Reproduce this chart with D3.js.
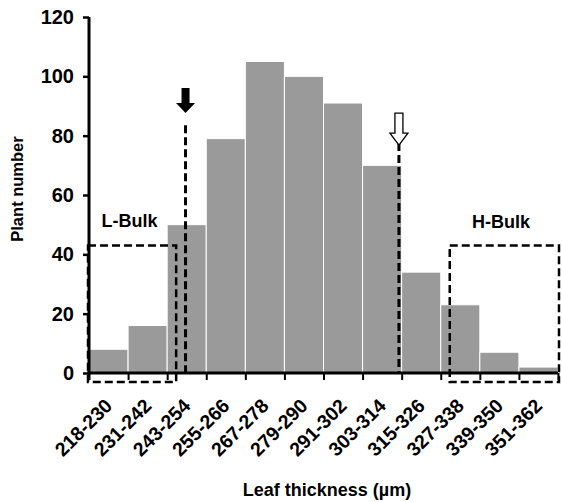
<!DOCTYPE html>
<html>
<head>
<meta charset="utf-8">
<script src="https://cdn.jsdelivr.net/npm/d3@7"></script>
<style>
  body { margin: 0; background: #fff; }
  svg { display: block; }
  text { font-family: "Liberation Sans", Arial, sans-serif; font-weight: bold; fill: #000; }
</style>
</head>
<body>
<svg id="chart" width="562" height="502"></svg>
<script>
// ---- data ----
const categories = ["218-230","231-242","243-254","255-266","267-278","279-290",
                    "291-302","303-314","315-326","327-338","339-350","351-362"];
const plantCounts = [8, 16, 50, 79, 105, 100, 91, 70, 34, 23, 7, 2];
const yTickValues = [0, 20, 40, 60, 80, 100, 120];
const bulkLabels = ["L-Bulk", "H-Bulk"];

// ---- layout ----
const plotL = 89, plotR = 558, plotT = 17, plotB = 373;
const svg = d3.select("#chart");

const x = d3.scaleBand().domain(categories).range([plotL, plotR]).padding(0);
const xEdge = d3.scaleLinear().domain([0, categories.length]).range([plotL, plotR]);
const y = d3.scaleLinear().domain([0, 120]).range([plotB, plotT]);
const bw = x.bandwidth();

// bars
svg.append("g").selectAll("rect").data(plantCounts).join("rect")
  .attr("x", (d, i) => x(categories[i]))
  .attr("y", d => y(d))
  .attr("width", bw)
  .attr("height", d => y(0) - y(d))
  .attr("fill", "#9a9a9a")
  .attr("stroke", "#fff")
  .attr("stroke-width", 1);

// dashed bulk boxes
const dash = "8,4";
const boxes = [
  {x0: xEdge(0) - 1, x1: xEdge(2.23), y0: y(43), y1: y(-3)},
  {x0: xEdge(9.23), x1: xEdge(12) + 1, y0: y(43), y1: y(-3)}
];
svg.append("g").selectAll("rect").data(boxes).join("rect")
  .attr("x", d => d.x0).attr("y", d => d.y0)
  .attr("width", d => d.x1 - d.x0).attr("height", d => d.y1 - d.y0)
  .attr("fill", "none").attr("stroke", "#000")
  .attr("stroke-width", 2.5).attr("stroke-dasharray", dash);

// bulk labels
svg.append("text").attr("x", 129.5).attr("y", 227).attr("text-anchor", "middle")
  .attr("font-size", 18).text(bulkLabels[0]);
svg.append("text").attr("x", 501).attr("y", 228).attr("text-anchor", "middle")
  .attr("font-size", 18).text(bulkLabels[1]);

// threshold lines
const lowX = x("243-254") + bw * 0.47;
const highX = x("303-314") + bw * 0.93;
svg.append("line").attr("x1", lowX).attr("x2", lowX).attr("y1", y(83.5)).attr("y2", y(0))
  .attr("stroke", "#000").attr("stroke-width", 3).attr("stroke-dasharray", dash);
svg.append("line").attr("x1", highX).attr("x2", highX).attr("y1", y(77.5)).attr("y2", y(0))
  .attr("stroke", "#000").attr("stroke-width", 3).attr("stroke-dasharray", dash);

// arrows
function arrowPath(cx, tipY, shaftLen, headLen, shaftW, headW) {
  const hy = tipY - headLen, sy = hy - shaftLen;
  return `M${cx - shaftW/2},${sy} L${cx + shaftW/2},${sy} L${cx + shaftW/2},${hy} L${cx + headW/2},${hy} L${cx},${tipY} L${cx - headW/2},${hy} L${cx - shaftW/2},${hy} Z`;
}
svg.append("path").attr("d", arrowPath(lowX, y(87.6), 15, 10, 8, 19))
  .attr("fill", "#000");
svg.append("path").attr("d", arrowPath(highX, y(76.8), 20, 12, 8, 18))
  .attr("fill", "#fff").attr("stroke", "#000").attr("stroke-width", 1.3);

// y axis
const yAxis = svg.append("g").attr("transform", `translate(${plotL},0)`)
  .call(d3.axisLeft(y).tickValues(yTickValues).tickSize(6).tickPadding(9));
yAxis.select(".domain").attr("stroke-width", 3).attr("d", `M0,${plotT}V${plotB + 1.5}`);
yAxis.selectAll(".tick line").attr("stroke-width", 2.5);
yAxis.selectAll(".tick text").attr("font-size", 20).attr("font-family", "Liberation Sans, Arial, sans-serif").attr("font-weight", "bold");

// x axis
const xAxis = svg.append("g").attr("transform", `translate(0,${plotB})`)
  .call(d3.axisBottom(xEdge).tickValues(d3.range(0, categories.length + 1)).tickSize(7).tickFormat(""));
xAxis.select(".domain").attr("stroke-width", 3).attr("d", `M${plotL - 1.5},0H${plotR}`);
xAxis.selectAll(".tick line").attr("stroke-width", 2);

// x tick labels
svg.append("g").selectAll("text").data(categories).join("text")
  .attr("transform", d => `translate(${x(d) + bw / 2 + 5},${407}) rotate(-45)`)
  .attr("text-anchor", "end")
  .attr("font-size", 19.5)
  .text(d => d);

// axis titles
svg.append("text").attr("transform", `translate(23,189) rotate(-90)`)
  .attr("text-anchor", "middle").attr("font-size", 16.5).text("Plant number");
svg.append("text").attr("x", 327).attr("y", 496).attr("text-anchor", "middle")
  .attr("font-size", 18).text("Leaf thickness (µm)");
</script>
</body>
</html>
